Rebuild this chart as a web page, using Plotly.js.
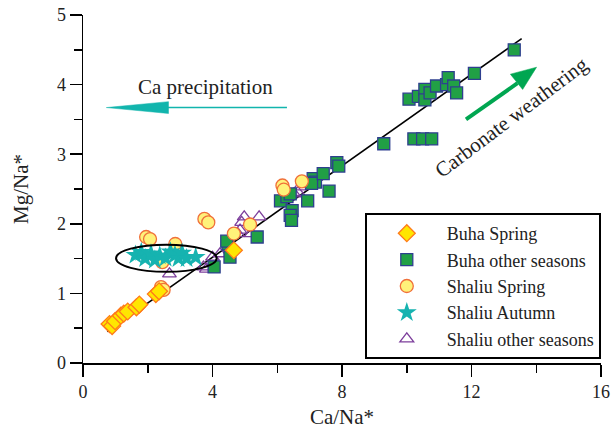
<!DOCTYPE html>
<html>
<head>
<meta charset="utf-8">
<script src="https://cdn.plot.ly/plotly-3.0.1.min.js"></script>
<style>html,body{margin:0;padding:0;background:#fff;}#chart{width:616px;height:438px;}</style>
</head>
<body>
<div id="chart"></div>
<script>
// ---- data ----
const buhaSpringX = [0.82, 0.90, 0.99, 1.17, 1.26, 1.38, 1.65, 1.74, 2.25, 2.35, 4.66];
const buhaSpringY = [0.56, 0.53, 0.60, 0.68, 0.71, 0.74, 0.80, 0.84, 0.99, 1.03, 1.62];

const buhaOtherX = [4.05, 4.54, 4.48, 4.44, 5.38, 6.10, 6.30, 6.40, 6.46, 6.40, 6.44, 6.94, 7.11, 7.18, 7.06, 7.42, 7.60, 7.84, 7.90, 9.29,
  10.07, 10.36, 10.56, 10.56, 10.72, 10.92, 11.23, 11.28, 11.45, 11.54, 12.09, 13.32, 10.22, 10.49, 10.77];
const buhaOtherY = [1.38, 1.52, 1.71, 1.75, 1.81, 2.33, 2.39, 2.43, 2.19, 2.12, 2.05, 2.33, 2.65, 2.60, 2.58, 2.72, 2.47, 2.88, 2.83, 3.15,
  3.79, 3.83, 3.93, 3.78, 3.88, 3.98, 4.00, 4.10, 3.98, 3.88, 4.16, 4.50, 3.22, 3.22, 3.22];

const shaliuSpringX = [1.95, 2.07, 2.85, 2.45, 2.41, 2.49, 3.75, 3.87, 4.66, 5.16, 6.16, 6.20, 6.76];
const shaliuSpringY = [1.81, 1.78, 1.71, 1.45, 1.09, 1.05, 2.07, 2.02, 1.86, 1.99, 2.55, 2.49, 2.61];

const shaliuAutumnX = [1.62, 1.80, 1.92, 2.10, 2.22, 2.37, 2.55, 2.70, 2.84, 2.95, 3.06, 3.20, 3.48];
const shaliuAutumnY = [1.55, 1.59, 1.50, 1.57, 1.48, 1.54, 1.51, 1.60, 1.55, 1.50, 1.58, 1.50, 1.52];

const shaliuOtherX = [2.67, 3.72, 3.81, 4.00, 4.23, 4.78, 4.85, 4.90, 4.98, 5.20, 5.44, 6.52, 6.64, 6.70];
const shaliuOtherY = [1.28, 1.38, 1.35, 1.52, 1.57, 1.86, 1.91, 2.02, 2.10, 1.86, 2.10, 2.43, 2.45, 2.53];

const fitX = [0.75, 13.55];
const fitY = [0.45, 4.66];

const xTicks = [0, 4, 8, 12, 16];
const yTicks = [0, 1, 2, 3, 4, 5];

const FONT = '"Liberation Serif", "Times New Roman", serif';

const traces = [
  {x: fitX, y: fitY, mode: 'lines', line: {color: '#000', width: 1.6}, showlegend: false, hoverinfo: 'skip'},
  {x: shaliuOtherX, y: shaliuOtherY, mode: 'markers', name: 'Shaliu other seasons', legendrank: 5,
   marker: {symbol: 'triangle-up-open', size: 12, color: '#7d3f9c', line: {width: 1.3, color: '#7d3f9c'}}},
  {x: buhaOtherX, y: buhaOtherY, mode: 'markers', name: 'Buha other seasons', legendrank: 2,
   marker: {symbol: 'square', size: 12, color: '#21a045', line: {width: 1.3, color: '#2e3f8f'}}},
  {x: shaliuSpringX, y: shaliuSpringY, mode: 'markers', name: 'Shaliu Spring', legendrank: 3,
   marker: {symbol: 'circle', size: 13, color: '#fff27a', line: {width: 1.3, color: '#f0703a'}}},
  {x: buhaSpringX, y: buhaSpringY, mode: 'markers', name: 'Buha Spring', legendrank: 1,
   marker: {symbol: 'diamond', size: 13, color: '#ffe600', line: {width: 1.3, color: '#ff7a1a'}}},
  {x: shaliuAutumnX, y: shaliuAutumnY, mode: 'markers', name: 'Shaliu Autumn', legendrank: 4,
   marker: {symbol: 'star', size: 15, color: '#16b3b0', line: {width: 0}}}
];

const layout = {
  width: 616, height: 438,
  margin: {l: 83, r: 15, t: 15, b: 75},
  paper_bgcolor: '#fff', plot_bgcolor: '#fff',
  font: {family: FONT, color: '#000', size: 18},
  showlegend: true,
  legend: {
    x: 0.544, y: 0.431, xanchor: 'left', yanchor: 'top',
    bgcolor: '#fff', bordercolor: '#000', borderwidth: 2,
    font: {family: FONT, size: 18, color: '#222'},
    itemwidth: 70, traceorder: 'normal'
  },
  xaxis: {
    range: [0, 16], tickvals: xTicks, ticks: 'outside', ticklen: 12, tickwidth: 1.5, tickcolor: '#000',
    showline: true, linecolor: '#000', linewidth: 1.5, showgrid: false, zeroline: false,
    minor: {dtick: 2, ticks: 'outside', ticklen: 8, tickwidth: 1.5, tickcolor: '#000', showgrid: false},
    tickfont: {family: FONT, size: 18, color: '#222'},
    title: {text: 'Ca/Na*', font: {family: FONT, size: 21, color: '#222'}, standoff: 8}
  },
  yaxis: {
    range: [0, 5], tickvals: yTicks, ticks: 'outside', ticklen: 12, tickwidth: 1.5, tickcolor: '#000',
    showline: true, linecolor: '#000', linewidth: 1.5, showgrid: false, zeroline: false,
    minor: {dtick: 0.5, ticks: 'outside', ticklen: 8, tickwidth: 1.5, tickcolor: '#000', showgrid: false},
    tickfont: {family: FONT, size: 18, color: '#222'},
    title: {text: 'Mg/Na*', font: {family: FONT, size: 21, color: '#222'}, standoff: 22}
  },
  shapes: [
    {type: 'circle', xref: 'x', yref: 'y', x0: 1.02, x1: 4.13, y0: 1.31, y1: 1.70, line: {color: '#000', width: 2}},
    {type: 'line', xref: 'x', yref: 'y', x0: 2.6, x1: 6.30, y0: 3.67, y1: 3.67, line: {color: '#12b5ad', width: 1.6}},
    {type: 'path', xref: 'x', yref: 'y', path: 'M 0.72,3.67 L 2.64,3.755 L 2.64,3.585 Z', fillcolor: '#12b5ad', line: {color: '#12b5ad', width: 0.5}},
    {type: 'line', xref: 'x', yref: 'y', x0: 11.83, y0: 3.50, x1: 13.42, y1: 4.02, line: {color: '#00a651', width: 4}},
    {type: 'path', xref: 'x', yref: 'y', path: 'M 14.01,4.25 L 13.58,3.93 L 13.20,4.15 Z', fillcolor: '#00a651', line: {color: '#00a651', width: 0.5}}
  ],
  annotations: [
    {x: 3.77, y: 3.97, xref: 'x', yref: 'y', text: 'Ca precipitation', showarrow: false,
     font: {family: FONT, size: 21, color: '#222'}},
    {x: 13.25, y: 3.53, xref: 'x', yref: 'y', text: 'Carbonate weathering', showarrow: false, textangle: -37,
     font: {family: FONT, size: 21, color: '#222'}}
  ]
};

Plotly.newPlot('chart', traces, layout, {displayModeBar: false, staticPlot: true});
</script>
</body>
</html>
